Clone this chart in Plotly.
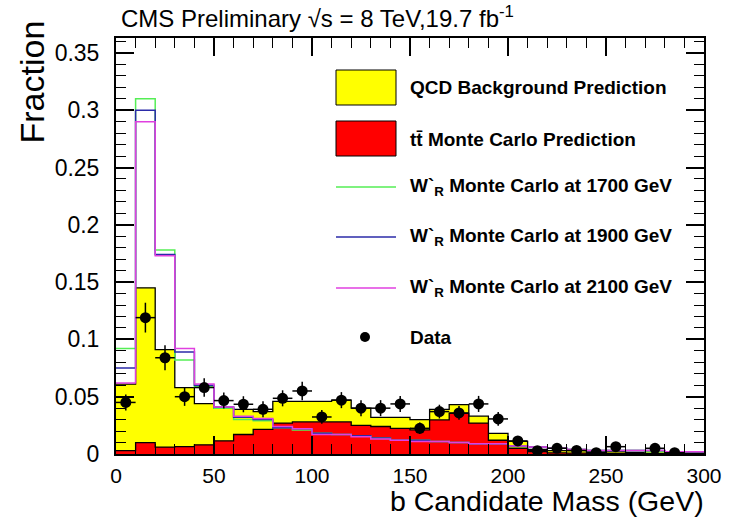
import plotly.graph_objects as go

# ---------------- data ----------------
bin_edges = list(range(0, 310, 10))
bin_centers = [e + 5 for e in bin_edges[:-1]]

ttbar_mc = [0.003, 0.010, 0.006, 0.0065, 0.008, 0.0115, 0.017, 0.0215, 0.027, 0.028,
            0.028, 0.028, 0.025, 0.024, 0.0224, 0.021, 0.0297, 0.0355, 0.027, 0.012,
            0.005, 0.002, 0.001, 0.0008, 0.0005, 0.0005, 0.0003, 0.0003, 0.0002, 0.0002]

qcd_bkg = [0.058, 0.135, 0.085, 0.0515, 0.036, 0.0285, 0.022, 0.0155, 0.019, 0.018,
           0.018, 0.019, 0.015, 0.008, 0.0096, 0.009, 0.0093, 0.0075, 0.006, 0.006,
           0.006, 0.002, 0.002, 0.0022, 0.0015, 0.0015, 0.0012, 0.0017, 0.0008, 0.0008]

wr_1700 = [0.092, 0.310, 0.178, 0.082, 0.059, 0.040, 0.030, 0.029, 0.023, 0.021,
           0.018, 0.017, 0.016, 0.014, 0.012, 0.012, 0.011, 0.010, 0.009, 0.009,
           0.0065, 0.006, 0.005, 0.004, 0.003, 0.003, 0.003, 0.002, 0.002, 0.002]

wr_1900 = [0.075, 0.300, 0.174, 0.089, 0.060, 0.041, 0.032, 0.030, 0.023, 0.022,
           0.018, 0.017, 0.016, 0.014, 0.012, 0.012, 0.011, 0.010, 0.009, 0.009,
           0.007, 0.006, 0.005, 0.004, 0.003, 0.003, 0.003, 0.003, 0.002, 0.002]

wr_2100 = [0.062, 0.290, 0.173, 0.092, 0.061, 0.041, 0.033, 0.031, 0.024, 0.022,
           0.017, 0.017, 0.015, 0.013, 0.012, 0.011, 0.011, 0.010, 0.009, 0.009,
           0.007, 0.006, 0.005, 0.004, 0.003, 0.003, 0.003, 0.003, 0.002, 0.002]

data_vals = [0.045, 0.119, 0.084, 0.050, 0.058, 0.0466, 0.0434, 0.039, 0.0486, 0.055,
             0.0323, 0.047, 0.040, 0.040, 0.0437, 0.0224, 0.037, 0.0358, 0.0437, 0.0306,
             0.0114, 0.0029, 0.005, 0.0031, 0.0011, 0.0064, 0.0, 0.005, 0.0011, 0.0]
data_errs = [0.007, 0.013, 0.011, 0.008, 0.008, 0.007, 0.007, 0.007, 0.007, 0.008,
             0.006, 0.007, 0.007, 0.007, 0.007, 0.005, 0.006, 0.006, 0.007, 0.006,
             0.004, 0.002, 0.002, 0.002, 0.001, 0.003, 0.0, 0.002, 0.001, 0.0]

y_tick_vals = [0, 0.05, 0.1, 0.15, 0.2, 0.25, 0.3, 0.35]
y_tick_text = ["0", "0.05", "0.1", "0.15", "0.2", "0.25", "0.3", "0.35"]
x_tick_vals = [0, 50, 100, 150, 200, 250, 300]

legend_labels = ["QCD Background Prediction", "t\u0074\u0304 Monte Carlo Prediction",
                 "W`<sub>R</sub> Monte Carlo at 1700 GeV",
                 "W`<sub>R</sub> Monte Carlo at 1900 GeV",
                 "W`<sub>R</sub> Monte Carlo at 2100 GeV", "Data"]

# ---------------- figure ----------------
FONT = "Liberation Sans, Arial, Helvetica, sans-serif"
W, H = 735, 521
ML, MR, MT, MB = 116, 31, 38, 67
PW, PH = W - ML - MR, H - MT - MB
X_RANGE = [0, 300]
Y_RANGE = [0, 0.363]
X_MINOR = [10 * i for i in range(31)]
Y_MINOR = [round(0.01 * i, 2) for i in range(37)]


def px(xp):
    return (xp - ML) / PW


def py(yp):
    return (H - MB - yp) / PH


def step(vals):
    return list(vals) + [vals[-1]]


stack_total = [q + t for q, t in zip(qcd_bkg, ttbar_mc)]

fig = go.Figure()

fig.add_trace(go.Scatter(x=bin_edges, y=step(stack_total), mode="lines", line_shape="hv",
                         fill="tozeroy", fillcolor="#FFFF00",
                         line=dict(color="black", width=1.3), hoverinfo="skip"))
fig.add_trace(go.Scatter(x=bin_edges, y=step(ttbar_mc), mode="lines", line_shape="hv",
                         fill="tozeroy", fillcolor="#FF0000",
                         line=dict(color="black", width=1.3), hoverinfo="skip"))

sig_colors = ["#55EE55", "#2B2BA8", "#E040E0"]
for vals, col in zip([wr_1700, wr_1900, wr_2100], sig_colors):
    fig.add_trace(go.Scatter(x=bin_edges, y=step(vals), mode="lines", line_shape="hv",
                             line=dict(color=col, width=1.5), hoverinfo="skip"))

dx = [c for c, v in zip(bin_centers, data_vals) if v > 0]
dy = [v for v in data_vals if v > 0]
de = [e for e, v in zip(data_errs, data_vals) if v > 0]
fig.add_trace(go.Scatter(x=dx, y=dy, mode="markers",
                         marker=dict(color="black", size=11, symbol="circle"),
                         error_y=dict(type="data", array=de, color="black", thickness=1.5, width=0),
                         error_x=dict(type="constant", value=5, color="black", thickness=1.5, width=0)))

# invisible trace to activate the top / right minor-tick axes
fig.add_trace(go.Scatter(x=[X_RANGE[0]], y=[Y_RANGE[0]], xaxis="x2", yaxis="y2", mode="markers",
                         marker=dict(opacity=0), hoverinfo="skip"))

fig.update_layout(
    width=W, height=H, margin=dict(l=ML, r=MR, t=MT, b=MB),
    paper_bgcolor="white", plot_bgcolor="white", showlegend=False,
    font=dict(family=FONT, color="black"),
)

minor_x = dict(dtick=10, tick0=0, ticks="inside", ticklen=10, tickwidth=1.2, tickcolor="black")
minor_y = dict(dtick=0.01, tick0=0, ticks="inside", ticklen=10, tickwidth=1.2, tickcolor="black")
fig.update_layout(
    xaxis=dict(range=X_RANGE, tickvals=x_tick_vals, showline=True, linewidth=2, linecolor="black",
               mirror="allticks", tickfont=dict(size=21, family=FONT), ticklabelstandoff=2,
               ticks="inside", ticklen=18, tickwidth=1.5, tickcolor="black",
               showgrid=False, zeroline=False, minor=minor_x),
    yaxis=dict(range=Y_RANGE, tickvals=y_tick_vals, ticktext=y_tick_text, showline=True,
               linewidth=2, linecolor="black", mirror="allticks",
               tickfont=dict(size=23, family=FONT), ticklabelstandoff=10,
               ticks="inside", ticklen=18, tickwidth=1.5, tickcolor="black",
               showgrid=False, zeroline=False, minor=minor_y),
    xaxis2=dict(range=X_RANGE, overlaying="x", side="top", anchor="y", tickvals=X_MINOR,
                showticklabels=False, showline=False, ticks="inside", ticklen=10, tickwidth=1.2,
                tickcolor="black", showgrid=False, zeroline=False),
    yaxis2=dict(range=Y_RANGE, overlaying="y", side="right", anchor="x", tickvals=Y_MINOR,
                showticklabels=False, showline=False, ticks="inside", ticklen=10, tickwidth=1.2,
                tickcolor="black", showgrid=False, zeroline=False),
)

annotations = [
    dict(text="CMS Preliminary \u221As = 8 TeV,19.7 fb<sup>-1</sup>", x=px(119), y=py(17),
         xanchor="left", yanchor="middle", font=dict(size=24)),
    dict(text="b Candidate Mass (GeV)", x=px(706), y=py(501), xanchor="right", yanchor="middle",
         font=dict(size=28.5)),
    dict(text="Fraction", x=px(31), y=py(19), xanchor="center", yanchor="top", textangle=-90,
         font=dict(size=34)),
]
legend_y = [87, 139, 187, 237, 288, 337]
for lab, yy in zip(legend_labels, legend_y):
    annotations.append(dict(text="<b>" + lab + "</b>", x=px(408), y=py(yy), xanchor="left",
                            yanchor="middle", font=dict(size=19)))
for a in annotations:
    a.update(xref="paper", yref="paper", showarrow=False)
fig.update_layout(annotations=annotations)

shapes = [
    dict(type="rect", x0=px(336), x1=px(396), y0=py(105), y1=py(70), fillcolor="#FFFF00",
         line=dict(color="black", width=1)),
    dict(type="rect", x0=px(336), x1=px(396), y0=py(156), y1=py(121), fillcolor="#FF0000",
         line=dict(color="black", width=1)),
]
for col, yy in zip(sig_colors, legend_y[2:5]):
    shapes.append(dict(type="line", x0=px(336), x1=px(396), y0=py(yy), y1=py(yy),
                       line=dict(color=col, width=1.5)))
shapes.append(dict(type="circle", x0=px(360), x1=px(370), y0=py(342), y1=py(332),
                   fillcolor="black", line=dict(color="black", width=0)))
for s in shapes:
    s.update(xref="paper", yref="paper")
fig.update_layout(shapes=shapes)

fig.write_html("out.html")
